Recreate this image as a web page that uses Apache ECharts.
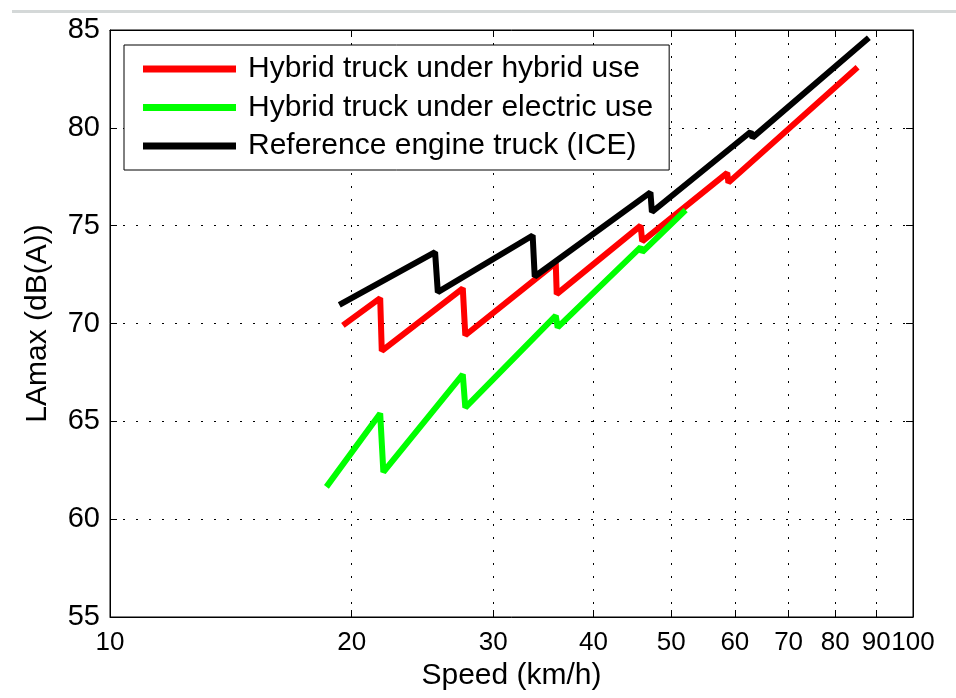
<!DOCTYPE html>
<html>
<head>
<meta charset="utf-8">
<script src="https://cdn.jsdelivr.net/npm/echarts@6/dist/echarts.min.js"></script>
<style>
  html, body { margin: 0; padding: 0; background: #fff; }
  #main { width: 956px; height: 698px; }
</style>
</head>
<body>
<div id="main"></div>
<script>
// speed (km/h) and LAmax (dB(A))
var hybridSpeed = [19.5, 21.7, 21.8, 27.5, 27.7, 35.9, 36.0, 45.8, 46.0, 58.7, 58.9, 85.3];
var hybridLevel = [69.9, 71.3, 68.6, 71.8, 69.4, 73.1, 71.5, 75.0, 74.2, 77.7, 77.2, 83.1];

var electricSpeed = [18.6, 21.7, 21.9, 27.5, 27.7, 35.9, 36.1, 45.8, 46.0, 52.1];
var electricLevel = [61.65, 65.4, 62.4, 67.4, 65.7, 70.4, 69.8, 73.9, 73.65, 75.8];

var iceSpeed = [19.3, 25.4, 25.6, 33.6, 33.8, 47.1, 47.3, 62.8, 63.1, 88.1];
var iceLevel = [70.95, 73.65, 71.6, 74.5, 72.4, 76.7, 75.7, 79.8, 79.5, 84.6];

var xTicks = [10, 20, 30, 40, 50, 60, 70, 80, 90, 100];
var yTicks = [55, 60, 65, 70, 75, 80, 85];

var seriesNames = ['Hybrid truck under hybrid use', 'Hybrid truck under electric use', 'Reference engine truck (ICE)'];
var seriesColors = ['#ff0000', '#00ff00', '#000000'];

function pairs(xs, ys) {
    var out = [];
    for (var i = 0; i < xs.length; i++) out.push([xs[i], ys[i]]);
    return out;
}

var chartDom = document.getElementById('main');
var myChart = echarts.init(chartDom);
var option;

var fontMain = 'Liberation Sans, Arial, sans-serif';
var fontNarrow = 'Liberation Sans Narrow, Liberation Sans, Arial, sans-serif';
var gridDots = [2, 11];

option = {
    backgroundColor: '#fff',
    animation: false,
    graphic: [
        { type: 'rect', shape: { x: 12, y: 10, width: 944, height: 3 }, style: { fill: '#d4d8d8' } }
    ],
    grid: {
        left: 110, right: 43, top: 30, bottom: 81,
        show: true, borderColor: '#000', borderWidth: 1, backgroundColor: '#fff'
    },
    legend: {
        orient: 'vertical',
        left: 124, top: 45,
        padding: [9, 16, 9, 19],
        itemGap: 8.5,
        itemWidth: 93,
        itemHeight: 7,
        icon: 'rect',
        backgroundColor: '#fff',
        borderColor: '#000',
        borderWidth: 1,
        textStyle: { fontSize: 30, color: '#000', fontFamily: fontMain, padding: [0, 0, 0, 7] },
        data: seriesNames
    },
    xAxis: [
        {
            type: 'log', logBase: 10, min: 10, max: 100,
            name: 'Speed (km/h)', nameLocation: 'middle', nameGap: 41,
            nameTextStyle: { fontSize: 30, color: '#000', fontFamily: fontMain },
            axisLine: { lineStyle: { color: '#000' } },
            axisTick: { inside: true, length: 7, customValues: xTicks, lineStyle: { color: '#000' } },
            axisLabel: {
                customValues: xTicks, fontSize: 26, color: '#000', fontFamily: fontNarrow, margin: 13
            },
            splitLine: { show: true, lineStyle: { color: '#000', type: gridDots } },
            minorTick: { show: false }
        },
        {
            type: 'log', logBase: 10, min: 10, max: 100, position: 'top',
            axisLine: { lineStyle: { color: '#000' } },
            axisTick: { inside: true, length: 7, customValues: xTicks, lineStyle: { color: '#000' } },
            axisLabel: { show: false },
            splitLine: { show: false }
        }
    ],
    yAxis: [
        {
            type: 'value', min: 55, max: 85, interval: 5,
            name: 'LAmax (dB(A))', nameLocation: 'middle', nameGap: 57,
            nameTextStyle: { fontSize: 30, color: '#000', fontFamily: fontMain },
            axisLine: { show: true, lineStyle: { color: '#000' } },
            axisTick: { inside: true, length: 7, lineStyle: { color: '#000' } },
            axisLabel: { fontSize: 29, color: '#000', fontFamily: fontMain, margin: 10 },
            splitLine: { show: true, lineStyle: { color: '#000', type: gridDots } }
        },
        {
            type: 'value', min: 55, max: 85, interval: 5, position: 'right',
            axisLine: { show: true, lineStyle: { color: '#000' } },
            axisTick: { show: true, inside: true, length: 7, lineStyle: { color: '#000' } },
            axisLabel: { show: false },
            splitLine: { show: false }
        }
    ],
    series: [
        {
            name: seriesNames[0], type: 'line', showSymbol: false, symbol: 'none',
            data: pairs(hybridSpeed, hybridLevel),
            itemStyle: { color: seriesColors[0] },
            lineStyle: { color: seriesColors[0], width: 6 }
        },
        {
            name: seriesNames[1], type: 'line', showSymbol: false, symbol: 'none',
            data: pairs(electricSpeed, electricLevel),
            itemStyle: { color: seriesColors[1] },
            lineStyle: { color: seriesColors[1], width: 6 }
        },
        {
            name: seriesNames[2], type: 'line', showSymbol: false, symbol: 'none',
            data: pairs(iceSpeed, iceLevel),
            itemStyle: { color: seriesColors[2] },
            lineStyle: { color: seriesColors[2], width: 6 }
        }
    ]
};

option && myChart.setOption(option);
</script>
</body>
</html>
